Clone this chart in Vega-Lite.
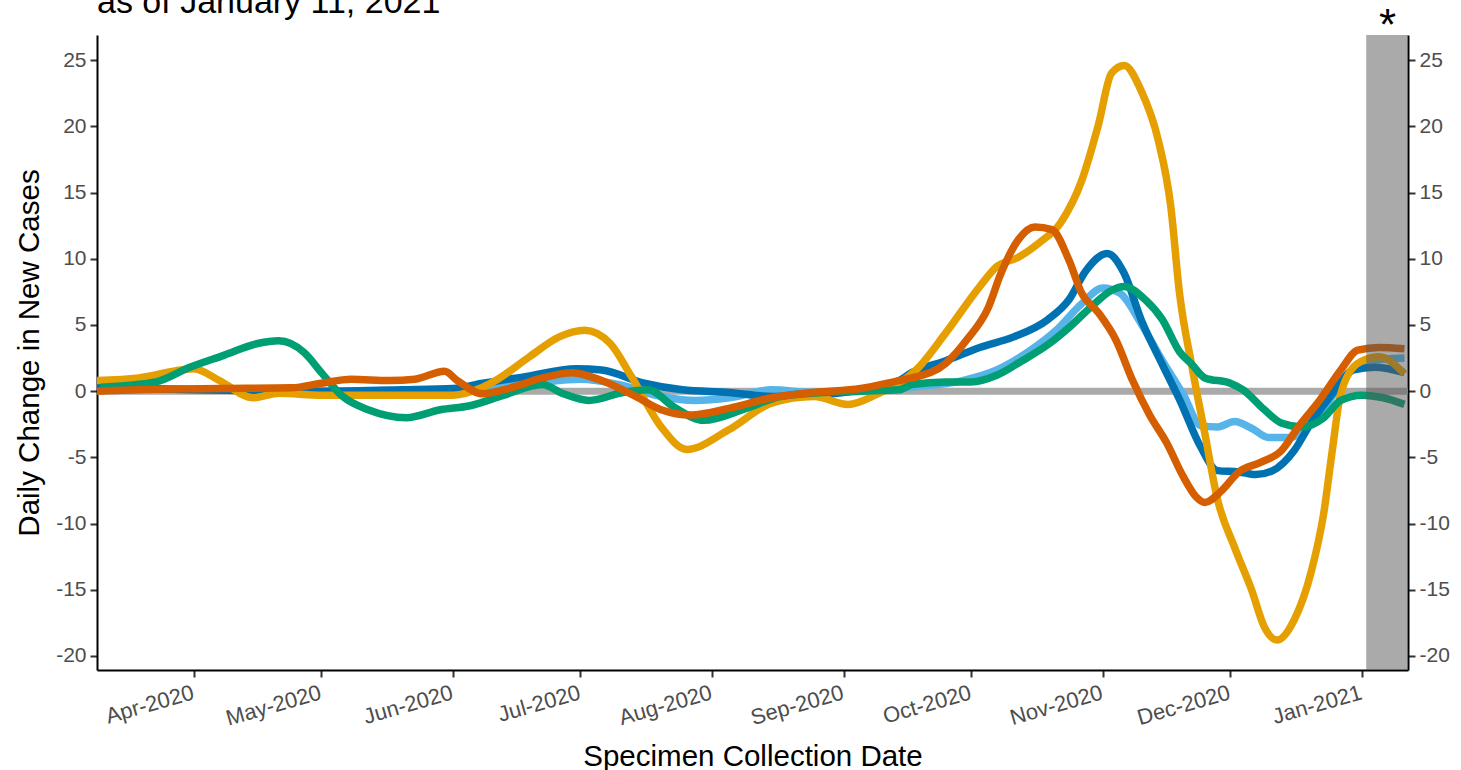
{
  "$schema": "https://vega.github.io/schema/vega-lite/v6.json",
  "width": 1311,
  "height": 635,
  "autosize": {"type": "none"},
  "padding": {"left": 97, "top": 35, "right": 53, "bottom": 100},
  "background": "white",
  "config": {
    "font": "Liberation Sans",
    "view": {"stroke": null},
    "axis": {
      "grid": false,
      "labelFont": "Liberation Sans",
      "labelFontSize": 21,
      "labelColor": "#4D4D4D",
      "domainColor": "black",
      "domainWidth": 2,
      "tickColor": "#333333",
      "tickWidth": 2,
      "tickSize": 7,
      "titleFont": "Liberation Sans",
      "titleFontSize": 29.5,
      "titleFontWeight": "normal",
      "titleColor": "black"
    }
  },
  "title": {
    "text": "as of January 11, 2021",
    "anchor": "start",
    "frame": "group",
    "font": "Liberation Sans",
    "fontSize": 34,
    "fontWeight": "normal",
    "color": "black",
    "baseline": "alphabetic",
    "offset": -10,
    "dy": 32
  },
  "datasets": {
    "lines": [
      {"series": "Group 1", "date": "2020-03-09", "value": 0.3},
      {"series": "Group 1", "date": "2020-04-01", "value": 0.1},
      {"series": "Group 1", "date": "2020-05-01", "value": 0.0},
      {"series": "Group 1", "date": "2020-05-20", "value": -0.1},
      {"series": "Group 1", "date": "2020-06-10", "value": 0.3},
      {"series": "Group 1", "date": "2020-06-20", "value": 0.6},
      {"series": "Group 1", "date": "2020-07-01", "value": 0.9},
      {"series": "Group 1", "date": "2020-07-10", "value": 0.5},
      {"series": "Group 1", "date": "2020-07-20", "value": -0.4},
      {"series": "Group 1", "date": "2020-07-28", "value": -0.7},
      {"series": "Group 1", "date": "2020-08-05", "value": -0.5},
      {"series": "Group 1", "date": "2020-08-15", "value": 0.1},
      {"series": "Group 1", "date": "2020-08-25", "value": -0.1},
      {"series": "Group 1", "date": "2020-09-05", "value": 0.0},
      {"series": "Group 1", "date": "2020-09-17", "value": 0.3},
      {"series": "Group 1", "date": "2020-09-29", "value": 0.8},
      {"series": "Group 1", "date": "2020-10-07", "value": 1.6},
      {"series": "Group 1", "date": "2020-10-15", "value": 3.1},
      {"series": "Group 1", "date": "2020-10-21", "value": 4.6},
      {"series": "Group 1", "date": "2020-10-27", "value": 6.6},
      {"series": "Group 1", "date": "2020-11-01", "value": 7.8},
      {"series": "Group 1", "date": "2020-11-05", "value": 7.4},
      {"series": "Group 1", "date": "2020-11-10", "value": 5.1},
      {"series": "Group 1", "date": "2020-11-15", "value": 2.3},
      {"series": "Group 1", "date": "2020-11-20", "value": -0.3},
      {"series": "Group 1", "date": "2020-11-24", "value": -2.6},
      {"series": "Group 1", "date": "2020-11-28", "value": -2.7},
      {"series": "Group 1", "date": "2020-12-02", "value": -2.3},
      {"series": "Group 1", "date": "2020-12-06", "value": -2.8},
      {"series": "Group 1", "date": "2020-12-10", "value": -3.5},
      {"series": "Group 1", "date": "2020-12-15", "value": -3.5},
      {"series": "Group 1", "date": "2020-12-20", "value": -2.4},
      {"series": "Group 1", "date": "2020-12-25", "value": -0.4},
      {"series": "Group 1", "date": "2020-12-29", "value": 1.4},
      {"series": "Group 1", "date": "2021-01-03", "value": 2.3},
      {"series": "Group 1", "date": "2021-01-11", "value": 2.5},

      {"series": "Group 2", "date": "2020-03-09", "value": 0.3},
      {"series": "Group 2", "date": "2020-04-01", "value": 0.1},
      {"series": "Group 2", "date": "2020-05-01", "value": 0.0},
      {"series": "Group 2", "date": "2020-05-20", "value": 0.1},
      {"series": "Group 2", "date": "2020-06-01", "value": 0.2},
      {"series": "Group 2", "date": "2020-06-08", "value": 0.6},
      {"series": "Group 2", "date": "2020-06-18", "value": 1.1},
      {"series": "Group 2", "date": "2020-06-30", "value": 1.7},
      {"series": "Group 2", "date": "2020-07-06", "value": 1.6},
      {"series": "Group 2", "date": "2020-07-16", "value": 0.6},
      {"series": "Group 2", "date": "2020-07-25", "value": 0.1},
      {"series": "Group 2", "date": "2020-08-05", "value": -0.1},
      {"series": "Group 2", "date": "2020-08-15", "value": -0.4},
      {"series": "Group 2", "date": "2020-08-25", "value": -0.3},
      {"series": "Group 2", "date": "2020-09-05", "value": 0.1},
      {"series": "Group 2", "date": "2020-09-14", "value": 0.8},
      {"series": "Group 2", "date": "2020-09-17", "value": 1.4},
      {"series": "Group 2", "date": "2020-09-25", "value": 2.3},
      {"series": "Group 2", "date": "2020-10-03", "value": 3.3},
      {"series": "Group 2", "date": "2020-10-11", "value": 4.1},
      {"series": "Group 2", "date": "2020-10-19", "value": 5.4},
      {"series": "Group 2", "date": "2020-10-24", "value": 6.9},
      {"series": "Group 2", "date": "2020-10-28", "value": 9.1},
      {"series": "Group 2", "date": "2020-11-02", "value": 10.4},
      {"series": "Group 2", "date": "2020-11-06", "value": 8.9},
      {"series": "Group 2", "date": "2020-11-10", "value": 5.4},
      {"series": "Group 2", "date": "2020-11-15", "value": 2.0},
      {"series": "Group 2", "date": "2020-11-19", "value": -0.6},
      {"series": "Group 2", "date": "2020-11-24", "value": -4.2},
      {"series": "Group 2", "date": "2020-11-28", "value": -6.0},
      {"series": "Group 2", "date": "2020-12-03", "value": -6.1},
      {"series": "Group 2", "date": "2020-12-07", "value": -6.3},
      {"series": "Group 2", "date": "2020-12-11", "value": -6.0},
      {"series": "Group 2", "date": "2020-12-16", "value": -4.5},
      {"series": "Group 2", "date": "2020-12-20", "value": -2.4},
      {"series": "Group 2", "date": "2020-12-25", "value": -0.2},
      {"series": "Group 2", "date": "2020-12-30", "value": 1.6},
      {"series": "Group 2", "date": "2021-01-04", "value": 1.8},
      {"series": "Group 2", "date": "2021-01-11", "value": 1.4},

      {"series": "Group 3", "date": "2020-03-09", "value": 0.8},
      {"series": "Group 3", "date": "2020-03-19", "value": 1.0},
      {"series": "Group 3", "date": "2020-03-29", "value": 1.6},
      {"series": "Group 3", "date": "2020-04-01", "value": 1.7},
      {"series": "Group 3", "date": "2020-04-07", "value": 0.8},
      {"series": "Group 3", "date": "2020-04-15", "value": -0.5},
      {"series": "Group 3", "date": "2020-04-21", "value": -0.15},
      {"series": "Group 3", "date": "2020-05-01", "value": -0.3},
      {"series": "Group 3", "date": "2020-05-17", "value": -0.3},
      {"series": "Group 3", "date": "2020-06-01", "value": -0.3},
      {"series": "Group 3", "date": "2020-06-08", "value": 0.3},
      {"series": "Group 3", "date": "2020-06-11", "value": 0.8},
      {"series": "Group 3", "date": "2020-06-19", "value": 2.6},
      {"series": "Group 3", "date": "2020-06-26", "value": 4.1},
      {"series": "Group 3", "date": "2020-07-02", "value": 4.6},
      {"series": "Group 3", "date": "2020-07-08", "value": 3.6},
      {"series": "Group 3", "date": "2020-07-13", "value": 1.1},
      {"series": "Group 3", "date": "2020-07-20", "value": -2.7},
      {"series": "Group 3", "date": "2020-07-26", "value": -4.4},
      {"series": "Group 3", "date": "2020-08-05", "value": -2.9},
      {"series": "Group 3", "date": "2020-08-15", "value": -0.9},
      {"series": "Group 3", "date": "2020-08-25", "value": -0.4},
      {"series": "Group 3", "date": "2020-09-02", "value": -1.0},
      {"series": "Group 3", "date": "2020-09-09", "value": -0.2},
      {"series": "Group 3", "date": "2020-09-14", "value": 0.6},
      {"series": "Group 3", "date": "2020-09-18", "value": 1.6},
      {"series": "Group 3", "date": "2020-09-25", "value": 4.4},
      {"series": "Group 3", "date": "2020-10-03", "value": 7.9},
      {"series": "Group 3", "date": "2020-10-07", "value": 9.4},
      {"series": "Group 3", "date": "2020-10-12", "value": 10.1},
      {"series": "Group 3", "date": "2020-10-17", "value": 11.2},
      {"series": "Group 3", "date": "2020-10-22", "value": 12.7},
      {"series": "Group 3", "date": "2020-10-27", "value": 15.9},
      {"series": "Group 3", "date": "2020-10-31", "value": 20.2},
      {"series": "Group 3", "date": "2020-11-03", "value": 24.0},
      {"series": "Group 3", "date": "2020-11-06", "value": 24.6},
      {"series": "Group 3", "date": "2020-11-10", "value": 22.7},
      {"series": "Group 3", "date": "2020-11-14", "value": 19.0},
      {"series": "Group 3", "date": "2020-11-17", "value": 13.9},
      {"series": "Group 3", "date": "2020-11-19", "value": 7.5},
      {"series": "Group 3", "date": "2020-11-22", "value": 1.8},
      {"series": "Group 3", "date": "2020-11-25", "value": -3.2},
      {"series": "Group 3", "date": "2020-11-28", "value": -8.2},
      {"series": "Group 3", "date": "2020-12-02", "value": -11.8},
      {"series": "Group 3", "date": "2020-12-06", "value": -15.0},
      {"series": "Group 3", "date": "2020-12-09", "value": -17.8},
      {"series": "Group 3", "date": "2020-12-12", "value": -18.8},
      {"series": "Group 3", "date": "2020-12-16", "value": -17.3},
      {"series": "Group 3", "date": "2020-12-20", "value": -13.7},
      {"series": "Group 3", "date": "2020-12-23", "value": -9.2},
      {"series": "Group 3", "date": "2020-12-25", "value": -4.5},
      {"series": "Group 3", "date": "2020-12-27", "value": -0.2},
      {"series": "Group 3", "date": "2020-12-31", "value": 2.1},
      {"series": "Group 3", "date": "2021-01-05", "value": 2.6},
      {"series": "Group 3", "date": "2021-01-11", "value": 1.3},

      {"series": "Group 4", "date": "2020-03-10", "value": 0.3},
      {"series": "Group 4", "date": "2020-03-23", "value": 0.7},
      {"series": "Group 4", "date": "2020-03-31", "value": 1.8},
      {"series": "Group 4", "date": "2020-04-08", "value": 2.7},
      {"series": "Group 4", "date": "2020-04-16", "value": 3.6},
      {"series": "Group 4", "date": "2020-04-21", "value": 3.8},
      {"series": "Group 4", "date": "2020-04-27", "value": 2.9},
      {"series": "Group 4", "date": "2020-05-01", "value": 1.4},
      {"series": "Group 4", "date": "2020-05-06", "value": -0.4},
      {"series": "Group 4", "date": "2020-05-12", "value": -1.4},
      {"series": "Group 4", "date": "2020-05-21", "value": -2.0},
      {"series": "Group 4", "date": "2020-05-29", "value": -1.4},
      {"series": "Group 4", "date": "2020-06-05", "value": -1.1},
      {"series": "Group 4", "date": "2020-06-13", "value": -0.3},
      {"series": "Group 4", "date": "2020-06-22", "value": 0.5},
      {"series": "Group 4", "date": "2020-06-27", "value": -0.2},
      {"series": "Group 4", "date": "2020-07-03", "value": -0.7},
      {"series": "Group 4", "date": "2020-07-11", "value": -0.1},
      {"series": "Group 4", "date": "2020-07-17", "value": 0.1},
      {"series": "Group 4", "date": "2020-07-23", "value": -1.2},
      {"series": "Group 4", "date": "2020-07-30", "value": -2.2},
      {"series": "Group 4", "date": "2020-08-09", "value": -1.3},
      {"series": "Group 4", "date": "2020-08-17", "value": -0.4},
      {"series": "Group 4", "date": "2020-08-27", "value": -0.1},
      {"series": "Group 4", "date": "2020-09-05", "value": 0.0},
      {"series": "Group 4", "date": "2020-09-14", "value": 0.1},
      {"series": "Group 4", "date": "2020-09-17", "value": 0.5},
      {"series": "Group 4", "date": "2020-09-25", "value": 0.7},
      {"series": "Group 4", "date": "2020-10-01", "value": 0.7},
      {"series": "Group 4", "date": "2020-10-07", "value": 1.2},
      {"series": "Group 4", "date": "2020-10-13", "value": 2.3},
      {"series": "Group 4", "date": "2020-10-19", "value": 3.5},
      {"series": "Group 4", "date": "2020-10-24", "value": 4.8},
      {"series": "Group 4", "date": "2020-10-30", "value": 6.6},
      {"series": "Group 4", "date": "2020-11-03", "value": 7.6},
      {"series": "Group 4", "date": "2020-11-06", "value": 7.9},
      {"series": "Group 4", "date": "2020-11-11", "value": 6.9},
      {"series": "Group 4", "date": "2020-11-15", "value": 5.4},
      {"series": "Group 4", "date": "2020-11-19", "value": 3.0},
      {"series": "Group 4", "date": "2020-11-22", "value": 2.0},
      {"series": "Group 4", "date": "2020-11-25", "value": 1.0},
      {"series": "Group 4", "date": "2020-12-01", "value": 0.6},
      {"series": "Group 4", "date": "2020-12-04", "value": 0.1},
      {"series": "Group 4", "date": "2020-12-09", "value": -1.4},
      {"series": "Group 4", "date": "2020-12-13", "value": -2.4},
      {"series": "Group 4", "date": "2020-12-18", "value": -2.7},
      {"series": "Group 4", "date": "2020-12-23", "value": -2.0},
      {"series": "Group 4", "date": "2020-12-27", "value": -0.7},
      {"series": "Group 4", "date": "2021-01-01", "value": -0.3},
      {"series": "Group 4", "date": "2021-01-06", "value": -0.5},
      {"series": "Group 4", "date": "2021-01-11", "value": -1.0},

      {"series": "Group 5", "date": "2020-03-09", "value": 0.0},
      {"series": "Group 5", "date": "2020-03-23", "value": 0.15},
      {"series": "Group 5", "date": "2020-04-08", "value": 0.2},
      {"series": "Group 5", "date": "2020-04-24", "value": 0.25},
      {"series": "Group 5", "date": "2020-05-01", "value": 0.6},
      {"series": "Group 5", "date": "2020-05-08", "value": 0.9},
      {"series": "Group 5", "date": "2020-05-17", "value": 0.8},
      {"series": "Group 5", "date": "2020-05-23", "value": 0.9},
      {"series": "Group 5", "date": "2020-05-30", "value": 1.5},
      {"series": "Group 5", "date": "2020-06-02", "value": 0.8},
      {"series": "Group 5", "date": "2020-06-08", "value": -0.2},
      {"series": "Group 5", "date": "2020-06-14", "value": 0.2},
      {"series": "Group 5", "date": "2020-06-22", "value": 1.0},
      {"series": "Group 5", "date": "2020-06-29", "value": 1.4},
      {"series": "Group 5", "date": "2020-07-06", "value": 0.8},
      {"series": "Group 5", "date": "2020-07-14", "value": -0.4},
      {"series": "Group 5", "date": "2020-07-20", "value": -1.4},
      {"series": "Group 5", "date": "2020-07-27", "value": -1.8},
      {"series": "Group 5", "date": "2020-08-05", "value": -1.3},
      {"series": "Group 5", "date": "2020-08-15", "value": -0.5},
      {"series": "Group 5", "date": "2020-08-25", "value": -0.1},
      {"series": "Group 5", "date": "2020-09-05", "value": 0.2},
      {"series": "Group 5", "date": "2020-09-14", "value": 0.8},
      {"series": "Group 5", "date": "2020-09-17", "value": 1.0},
      {"series": "Group 5", "date": "2020-09-25", "value": 2.1},
      {"series": "Group 5", "date": "2020-09-30", "value": 3.9},
      {"series": "Group 5", "date": "2020-10-05", "value": 6.3},
      {"series": "Group 5", "date": "2020-10-08", "value": 8.9},
      {"series": "Group 5", "date": "2020-10-12", "value": 11.4},
      {"series": "Group 5", "date": "2020-10-16", "value": 12.4},
      {"series": "Group 5", "date": "2020-10-20", "value": 12.2},
      {"series": "Group 5", "date": "2020-10-24", "value": 9.9},
      {"series": "Group 5", "date": "2020-10-27", "value": 7.4},
      {"series": "Group 5", "date": "2020-10-31", "value": 5.9},
      {"series": "Group 5", "date": "2020-11-04", "value": 3.9},
      {"series": "Group 5", "date": "2020-11-08", "value": 0.8},
      {"series": "Group 5", "date": "2020-11-12", "value": -1.8},
      {"series": "Group 5", "date": "2020-11-16", "value": -3.9},
      {"series": "Group 5", "date": "2020-11-20", "value": -6.5},
      {"series": "Group 5", "date": "2020-11-23", "value": -8.0},
      {"series": "Group 5", "date": "2020-11-25", "value": -8.4},
      {"series": "Group 5", "date": "2020-11-29", "value": -7.5},
      {"series": "Group 5", "date": "2020-12-03", "value": -6.1},
      {"series": "Group 5", "date": "2020-12-08", "value": -5.4},
      {"series": "Group 5", "date": "2020-12-13", "value": -4.5},
      {"series": "Group 5", "date": "2020-12-17", "value": -2.7},
      {"series": "Group 5", "date": "2020-12-22", "value": -0.7},
      {"series": "Group 5", "date": "2020-12-27", "value": 1.6},
      {"series": "Group 5", "date": "2020-12-31", "value": 3.1},
      {"series": "Group 5", "date": "2021-01-05", "value": 3.3},
      {"series": "Group 5", "date": "2021-01-11", "value": 3.2}
    ],
    "band": [{"start": "2021-01-02", "end": "2021-01-12"}],
    "zero": [{"value": 0}],
    "marker": [{"date": "2021-01-07", "value": 26.5, "label": "*"}]
  },
  "resolve": {"axis": {"y": "independent"}},
  "layer": [
    {
      "data": {"name": "zero"},
      "mark": {"type": "rule", "color": "#AAAAAA", "strokeWidth": 7},
      "encoding": {
        "y": {
          "field": "value", "type": "quantitative",
          "scale": {"domain": [-21.06, 26.9], "nice": false, "zero": false},
          "axis": {"orient": "left", "values": [-20, -15, -10, -5, 0, 5, 10, 15, 20, 25], "labelExpr": "toString(datum.value)", "labelPadding": 4, "title": "Daily Change in New Cases", "titlePadding": 11}
        }
      }
    },
    {
      "data": {"name": "lines"},
      "mark": {"type": "line", "strokeWidth": 7.5, "interpolate": "monotone", "clip": true},
      "encoding": {
        "x": {
          "field": "date", "type": "temporal",
          "scale": {"type": "utc", "domain": [{"year": 2020, "month": 3, "date": 9, "hours": 4, "utc": true}, {"year": 2021, "month": 1, "date": 11, "hours": 20, "utc": true}]},
          "axis": {"format": "%b-%Y", "tickCount": {"interval": "month", "step": 1}, "labelAngle": -16, "labelFontSize": 22, "labelAlign": "right", "labelBaseline": "top", "labelPadding": 5, "labelOffset": -4, "title": "Specimen Collection Date", "titlePadding": 13, "labelOverlap": false}
        },
        "y": {
          "field": "value", "type": "quantitative",
          "scale": {"domain": [-21.06, 26.9], "nice": false, "zero": false},
          "axis": {"orient": "right", "values": [-20, -15, -10, -5, 0, 5, 10, 15, 20, 25], "labelExpr": "toString(datum.value)", "labelPadding": 4, "title": null}
        },
        "color": {
          "field": "series", "type": "nominal",
          "scale": {"domain": ["Group 1", "Group 2", "Group 3", "Group 4", "Group 5"], "range": ["#56B4E9", "#0072B2", "#E69F00", "#009E73", "#D55E00"]},
          "legend": null
        }
      }
    },
    {
      "data": {"name": "band"},
      "mark": {"type": "rect", "color": "#555555", "opacity": 0.5, "clip": true},
      "encoding": {
        "x": {"field": "start", "type": "temporal", "scale": {"type": "utc", "domain": [{"year": 2020, "month": 3, "date": 9, "hours": 4, "utc": true}, {"year": 2021, "month": 1, "date": 11, "hours": 20, "utc": true}]}},
        "x2": {"field": "end"}
      }
    },
    {
      "data": {"name": "marker"},
      "mark": {"type": "text", "fontSize": 44, "color": "black", "baseline": "alphabetic", "align": "center", "font": "Liberation Sans"},
      "encoding": {
        "x": {"field": "date", "type": "temporal", "scale": {"type": "utc", "domain": [{"year": 2020, "month": 3, "date": 9, "hours": 4, "utc": true}, {"year": 2021, "month": 1, "date": 11, "hours": 20, "utc": true}]}},
        "y": {"field": "value", "type": "quantitative", "scale": {"domain": [-21.06, 26.9], "nice": false, "zero": false}, "axis": null},
        "text": {"field": "label"}
      }
    }
  ]
}
